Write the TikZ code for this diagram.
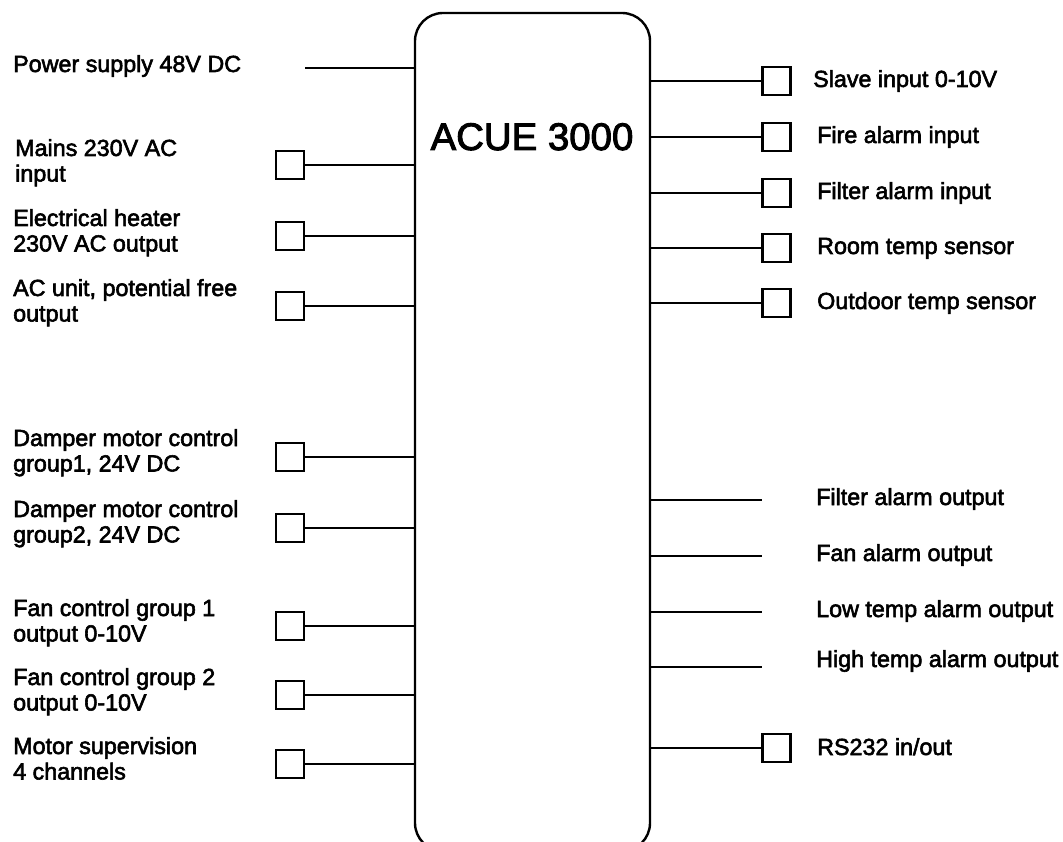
\documentclass[tikz,border=0pt]{standalone}
\usepackage{fontspec}
\setmainfont{Liberation Sans}
\newfontfamily\lblfont{Liberation Sans}[FakeBold=2.5]
\newcommand{\twoline}[2]{\begin{tabular}[t]{@{}l@{}}#1\\#2\end{tabular}}
\begin{document}
\begin{tikzpicture}[x=1pt,y=-1pt,
  wire/.style={line width=2.3pt},
  port/.style={draw, line width=2.6pt, minimum size=28pt, inner sep=0pt},
  lbl/.style={anchor=base west, inner sep=0pt, font=\lblfont\fontsize{23.3}{25.5}\selectfont}]
\useasboundingbox (0,0) rectangle (1063,842);
\clip (0,0) rectangle (1063,842);
% main unit
\node[draw, line width=2.4pt, rounded corners=28pt, minimum width=235pt, minimum height=838pt, inner sep=0pt] (acue) at (532.5,432) {};
\node[anchor=base, inner sep=0pt, font=\lblfont\fontsize{38.4}{40}\selectfont] (title) at (532,150) {ACUE 3000};

% left side
\node[lbl] (lpow) at (13,72) {Power supply 48V DC};
\coordinate (cpow) at (305,68);
\draw[wire] (cpow) -- (acue.west |- cpow);

\node[lbl] (lmains) at (15,156) {\twoline{Mains 230V AC}{input}};
\node[port] (pmains) at (290,165) {};
\draw[wire] (pmains.east) -- (acue.west |- pmains.east);

\node[lbl] (lheat) at (13,226) {\twoline{Electrical heater}{230V AC output}};
\node[port] (pheat) at (290,236) {};
\draw[wire] (pheat.east) -- (acue.west |- pheat.east);

\node[lbl] (lacu) at (13,296) {\twoline{AC unit, potential free}{output}};
\node[port] (pacu) at (290,306) {};
\draw[wire] (pacu.east) -- (acue.west |- pacu.east);

\node[lbl] (ldmp1) at (13,446) {\twoline{Damper motor control}{group1, 24V DC}};
\node[port] (pdmp1) at (290,457) {};
\draw[wire] (pdmp1.east) -- (acue.west |- pdmp1.east);

\node[lbl] (ldmp2) at (13,517) {\twoline{Damper motor control}{group2, 24V DC}};
\node[port] (pdmp2) at (290,528) {};
\draw[wire] (pdmp2.east) -- (acue.west |- pdmp2.east);

\node[lbl] (lfan1) at (13,616) {\twoline{Fan control group 1}{output 0-10V}};
\node[port] (pfan1) at (290,626) {};
\draw[wire] (pfan1.east) -- (acue.west |- pfan1.east);

\node[lbl] (lfan2) at (13,685) {\twoline{Fan control group 2}{output 0-10V}};
\node[port] (pfan2) at (290,695) {};
\draw[wire] (pfan2.east) -- (acue.west |- pfan2.east);

\node[lbl] (lmot) at (13,754) {\twoline{Motor supervision}{4 channels}};
\node[port] (pmot) at (290,764) {};
\draw[wire] (pmot.east) -- (acue.west |- pmot.east);

% right side inputs
\node[port] (pslave) at (776.5,81) {};
\draw[wire] (acue.east |- pslave.west) -- (pslave.west);
\node[lbl] (lslave) at (813,87) {Slave input 0-10V};

\node[port] (pfire) at (776.5,137) {};
\draw[wire] (acue.east |- pfire.west) -- (pfire.west);
\node[lbl] (lfire) at (817,143) {Fire alarm input};

\node[port] (pfilt) at (776.5,193) {};
\draw[wire] (acue.east |- pfilt.west) -- (pfilt.west);
\node[lbl] (lfilt) at (817,199) {Filter alarm input};

\node[port] (proom) at (776.5,248) {};
\draw[wire] (acue.east |- proom.west) -- (proom.west);
\node[lbl] (lroom) at (817,254) {Room temp sensor};

\node[port] (pout) at (776.5,303) {};
\draw[wire] (acue.east |- pout.west) -- (pout.west);
\node[lbl] (lout) at (817,309) {Outdoor temp sensor};

% right side outputs
\coordinate (cfao) at (762,500);
\draw[wire] (acue.east |- cfao) -- (cfao);
\node[lbl] (lfao) at (816,505) {Filter alarm output};

\coordinate (cfan) at (762,556);
\draw[wire] (acue.east |- cfan) -- (cfan);
\node[lbl] (lfan) at (816,561) {Fan alarm output};

\coordinate (clow) at (762,612);
\draw[wire] (acue.east |- clow) -- (clow);
\node[lbl] (llow) at (816,617) {Low temp alarm output};

\coordinate (chigh) at (762,667);
\draw[wire] (acue.east |- chigh) -- (chigh);
\node[lbl] (lhigh) at (816,667) {High temp alarm output};

\node[port] (prs) at (776.5,748) {};
\draw[wire] (acue.east |- prs.west) -- (prs.west);
\node[lbl] (lrs) at (817,755) {RS232 in/out};
\end{tikzpicture}
\end{document}
